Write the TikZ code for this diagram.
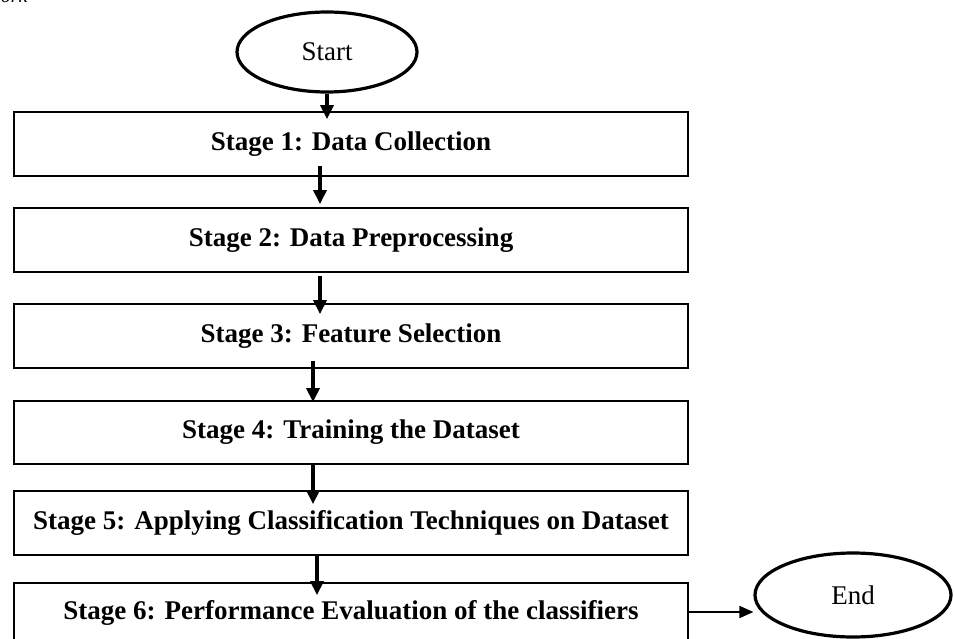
\documentclass[tikz,border=0pt]{standalone}
\usepackage{fontspec}
\setmainfont{Liberation Serif}
\usetikzlibrary{shapes.geometric,arrows.meta}
\begin{document}
\begin{tikzpicture}[x=1pt,y=-1pt,
  stagebox/.style={draw=black,line width=1.8pt,rectangle,minimum width=674pt,inner sep=0pt,
    font=\fontsize{27}{30}\selectfont\bfseries},
  term/.style={draw=black,line width=3.2pt,ellipse,inner sep=0pt,font=\fontsize{27}{30}\selectfont},
  arr/.style={line width=3.4pt,-{Triangle[width=13pt,length=14pt]}}]
\useasboundingbox (0,0) rectangle (954,639);
\fill[white] (0,0) rectangle (954,639);
\node[anchor=base east,font=\fontsize{20}{22}\selectfont\itshape] (work) at (31,2.5) {Work};
\node[term,minimum width=180pt,minimum height=80pt] (start) at (327,52) {Start};
\node[stagebox,minimum height=64pt] (b1) at (351,144) {Stage 1: Data Collection};
\node[stagebox,minimum height=64pt] (b2) at (351,240) {Stage 2: Data Preprocessing};
\node[stagebox,minimum height=64pt] (b3) at (351,336) {Stage 3: Feature Selection};
\node[stagebox,minimum height=63pt] (b4) at (351,432.5) {Stage 4: Training the Dataset};
\node[stagebox,minimum height=64pt] (b5) at (351,523) {Stage 5: Applying Classification Techniques on Dataset};
\node[stagebox,minimum height=60pt] (b6) at (351,613) {Stage 6: Performance Evaluation of the classifiers};
\node[term,minimum width=196pt,minimum height=84pt] (end) at (853,595) {End};
\draw[arr] ([xshift=-24pt]b1.north |- start.south) -- ([xshift=-24pt,yshift=-8pt]b1.north);
\draw[arr] ([xshift=-31pt,yshift=11pt]b1.south) -- ([xshift=-31pt,yshift=3pt]b2.north);
\draw[arr] ([xshift=-31pt,yshift=-3pt]b2.south) -- ([xshift=-31pt,yshift=-11pt]b3.north);
\draw[arr] ([xshift=-38pt,yshift=8pt]b3.south) -- ([xshift=-38pt,yshift=-2pt]b4.north);
\draw[arr] ([xshift=-38pt]b4.south) -- ([xshift=-38pt,yshift=-14pt]b5.north);
\draw[arr] ([xshift=-34pt]b5.south) -- ([xshift=-34pt,yshift=-13pt]b6.north);
\draw[line width=1.8pt,-{Triangle[width=12pt,length=14pt]}] (b6.east |- 0,612) -- (end.west |- 0,612);
\end{tikzpicture}
\end{document}
